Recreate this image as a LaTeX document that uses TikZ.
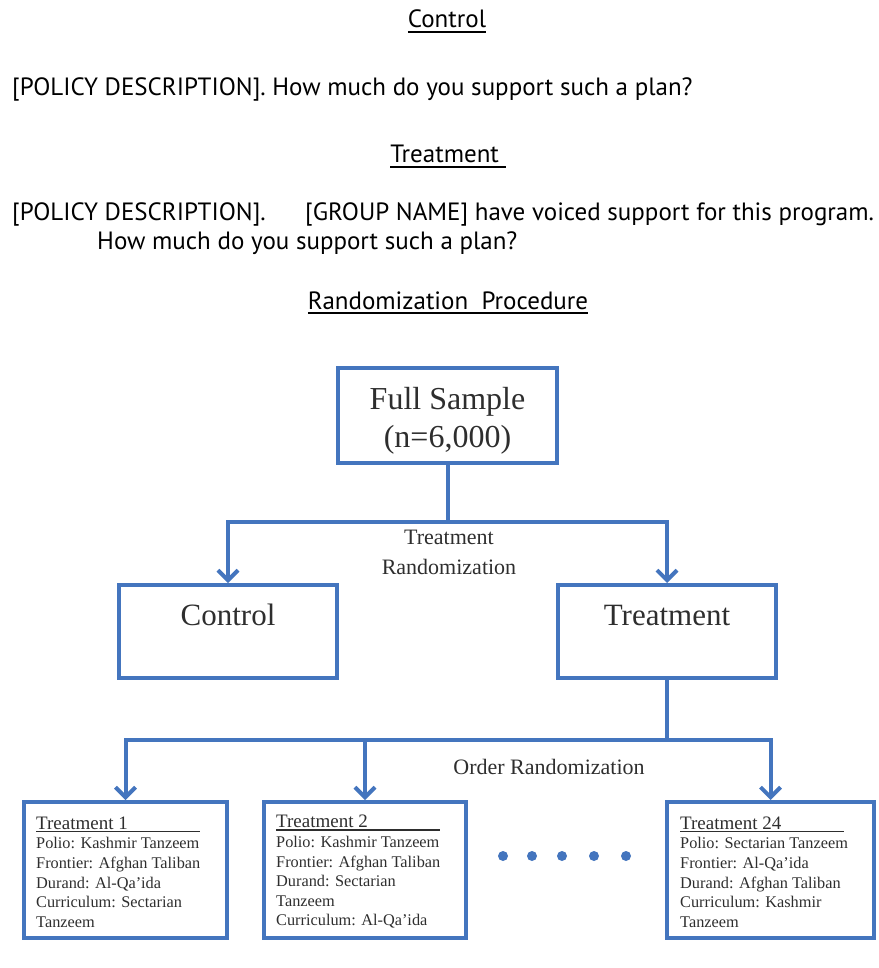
\documentclass[tikz,border=0pt]{standalone}
\usepackage{fontspec}
\setmainfont{Liberation Serif}
\newfontfamily\topfont{PT Sans}
\usetikzlibrary{arrows.meta}
\definecolor{boxblue}{HTML}{4475BE}
\definecolor{dtext}{HTML}{2E2E2E}
\newcommand\myul[1]{\setbox0\hbox{#1}\rlap{\rule[-5pt]{\wd0}{1.8pt}}\box0}
\newcommand\boxhead[2]{\setbox0\hbox{\makebox[#2][l]{#1}}\rlap{\rule[-3pt]{\wd0}{1.6pt}}\box0}
\begin{document}
\begin{tikzpicture}[x=1pt,y=-1pt,
  box/.style={draw=boxblue, line width=4pt, inner sep=0pt},
  conn/.style={draw=boxblue, line width=4pt},
  arr/.style={conn, -{Straight Barb[length=10pt,width=20pt]}},
  toptext/.style={font=\topfont\fontsize{25}{30}\selectfont, inner sep=0pt, anchor=base west},
  tophead/.style={font=\topfont\fontsize{25}{30}\selectfont, inner sep=0pt, anchor=base},
  lbl/.style={text=dtext, inner sep=0pt, font=\fontsize{22}{30}\selectfont, align=center},
  big/.style={text=dtext, inner sep=0pt, font=\fontsize{31}{38}\selectfont},
  small/.style={text=dtext, inner sep=0pt, font=\fontsize{16.3}{19.6}\selectfont, align=left, anchor=west},
  dot/.style={circle, fill=boxblue, inner sep=0pt, minimum size=10pt}]
\useasboundingbox (0,0) rectangle (878,968);

% top texts
\node[tophead] (h1) at (447,28) {\myul{Control}};
\node[toptext] (l1) at (12,96) {[POLICY DESCRIPTION]. How much do you support such a plan?};
\node[tophead] (h2) at (448,163) {\myul{Treatment }};
\node[toptext] (l2a) at (12,221) {[POLICY DESCRIPTION].};
\node[toptext] (l2b) at (305,221) {[GROUP NAME] have voiced support for this program.};
\node[toptext] (l3) at (97,250) {How much do you support such a plan?};
\node[tophead] (h3) at (448,309) {\myul{Randomization\ \ Procedure}};

% boxes
\node[box, minimum width=219pt, minimum height=95pt] (full) at (447.5,415.5) {};
\node[big, align=center, font=\fontsize{32}{38}\selectfont] (fullt) at (447.5,421) {Full Sample\\(n=6,000)};

\node[box, minimum width=218pt, minimum height=93pt] (ctrl) at (228,631.5) {};
\node[big, anchor=base] (ctrlt) at (228,625) {Control};
\node[box, minimum width=218pt, minimum height=93pt] (treat) at (667,631.5) {};
\node[big, anchor=base] (treatt) at (667,625) {Treatment};

\node[box, minimum width=203pt, minimum height=136pt] (t1) at (125.5,870) {};
\node[box, minimum width=202pt, minimum height=136pt] (t2) at (365,870) {};
\node[box, minimum width=207pt, minimum height=136pt] (t24) at (770.5,870) {};

\node[small] (t1t) at ([xshift=14pt,yshift=-2pt]t1.west) {\boxhead{\fontsize{19}{19.6}\selectfont Treatment 1}{164pt}\\Polio: Kashmir Tanzeem\\Frontier: Afghan Taliban\\Durand: Al-Qa'ida\\Curriculum: Sectarian\\Tanzeem};
\node[small] (t2t) at ([xshift=14pt,yshift=-2pt]t2.west) {\boxhead{\fontsize{19}{19.6}\selectfont Treatment 2}{164pt}\\Polio: Kashmir Tanzeem\\Frontier: Afghan Taliban\\Durand: Sectarian\\Tanzeem\\Curriculum: Al-Qa'ida};
\node[small] (t24t) at ([xshift=15pt,yshift=-2pt]t24.west) {\boxhead{\fontsize{19}{19.6}\selectfont Treatment 24}{164pt}\\Polio: Sectarian Tanzeem\\Frontier: Al-Qa'ida\\Durand: Afghan Taliban\\Curriculum: Kashmir\\Tanzeem};

% dots
\node[dot] (d1) at (503,856) {};
\node[dot] (d2) at (532,856) {};
\node[dot] (d3) at (562,856) {};
\node[dot] (d4) at (594,856) {};
\node[dot] (d5) at (626,856) {};

% connectors
\coordinate (j1) at (447.5,522);
\draw[conn] (full.south) -- (j1);
\draw[arr] (j1) -| (ctrl.north);
\draw[arr] (j1) -| (treat.north);
\node[lbl] (rand1) at (449,552) {Treatment\\Randomization};

\coordinate (j2) at (667,740);
\draw[conn] (treat.south) -- (j2);
\draw[arr] (j2) -| (t1.north);
\draw[arr] (j2) -| (t2.north);
\draw[arr] (j2) -| (t24.north);
\node[lbl] (rand2) at (549,767) {Order Randomization};
\end{tikzpicture}
\end{document}
